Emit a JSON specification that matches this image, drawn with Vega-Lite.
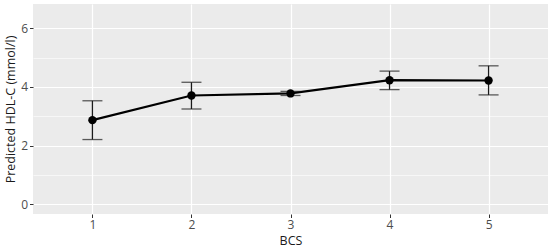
{
  "$schema": "https://vega.github.io/schema/vega-lite/v6.json",
  "width": 515,
  "height": 210,
  "autosize": "none",
  "padding": {"left": 33, "top": 4, "right": 2, "bottom": 36},
  "background": "white",
  "config": {
    "view": {"fill": "#EBEBEB", "stroke": null},
    "font": "Open Sans",
    "axis": {
      "domain": false,
      "gridColor": "white",
      "gridWidth": 1.2,
      "tickColor": "#333333",
      "tickSize": 3.5,
      "tickWidth": 1,
      "labelColor": "#4D4D4D",
      "labelFontSize": 12,
      "labelPadding": 2,
      "titleColor": "#1a1a1a",
      "titleFontSize": 12.5,
      "titleFontWeight": "normal"
    }
  },
  "data": {
    "values": [
      {"BCS": 1, "mean": 2.87, "low": 2.21, "high": 3.53},
      {"BCS": 2, "mean": 3.71, "low": 3.25, "high": 4.16},
      {"BCS": 3, "mean": 3.78, "low": 3.71, "high": 3.85},
      {"BCS": 4, "mean": 4.23, "low": 3.91, "high": 4.54},
      {"BCS": 5, "mean": 4.22, "low": 3.73, "high": 4.72}
    ]
  },
  "encoding": {
    "x": {
      "field": "BCS",
      "type": "quantitative",
      "scale": {"domain": [0.4, 5.6], "nice": false, "zero": false},
      "axis": {"values": [1, 2, 3, 4, 5], "format": "d", "title": "BCS", "titlePadding": 4}
    }
  },
  "layer": [
    {
      "mark": {"type": "rule", "color": "#1a1a1a", "strokeWidth": 1.3},
      "encoding": {
        "y": {
          "field": "low",
          "type": "quantitative",
          "scale": {"domain": [-0.325, 6.825], "nice": false, "zero": false},
          "axis": {"values": [1, 3, 5], "grid": true, "gridWidth": 0.6, "labels": false, "ticks": false, "title": null, "orient": "left"}
        },
        "y2": {"field": "high"}
      }
    },
    {
      "mark": {"type": "line", "color": "black", "strokeWidth": 2.2},
      "encoding": {
        "y": {
          "field": "mean",
          "type": "quantitative",
          "scale": {"domain": [-0.325, 6.825], "nice": false, "zero": false},
          "axis": {"values": [0, 2, 4, 6], "grid": true, "title": "Predicted HDL-C (mmol/l)", "orient": "left", "titlePadding": 3}
        }
      }
    },
    {
      "mark": {"type": "tick", "orient": "horizontal", "size": 20, "thickness": 1.3, "color": "#1a1a1a"},
      "encoding": {"y": {"field": "low", "type": "quantitative", "axis": null}}
    },
    {
      "mark": {"type": "tick", "orient": "horizontal", "size": 20, "thickness": 1.3, "color": "#1a1a1a"},
      "encoding": {"y": {"field": "high", "type": "quantitative", "axis": null}}
    },
    {
      "mark": {"type": "point", "filled": true, "color": "black", "size": 70, "opacity": 1},
      "encoding": {"y": {"field": "mean", "type": "quantitative", "axis": null}}
    }
  ],
  "resolve": {"axis": {"y": "independent"}}
}
